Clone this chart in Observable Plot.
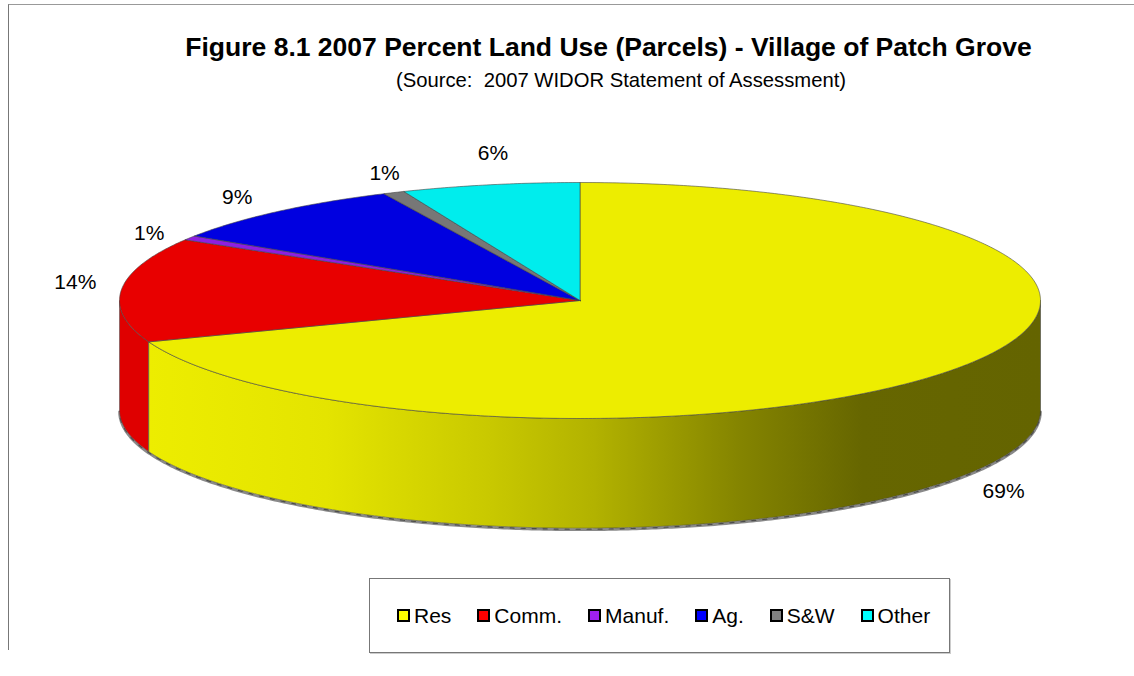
<!DOCTYPE html>
<html>
<head>
<meta charset="utf-8">
<script src="https://cdn.jsdelivr.net/npm/d3@7"></script>
<script src="https://cdn.jsdelivr.net/npm/@observablehq/plot@0.6"></script>
<style>
  html, body { margin: 0; padding: 0; background: #fff; }
  body { width: 1134px; height: 676px; position: relative; overflow: hidden; font-family: "Liberation Sans", Arial, sans-serif; color: #000; }
  #frame { position: absolute; left: 8px; top: 4px; right: 0; height: 645px; border-left: 1px solid #777; border-top: 1px solid #999; }
  #title { position: absolute; left: 0; width: 1217px; top: 32px; text-align: center; font-weight: bold; font-size: 26.5px; line-height: 30px; white-space: pre; }
  #subtitle { position: absolute; left: 0; width: 1242px; top: 68px; text-align: center; font-size: 20.25px; line-height: 24px; white-space: pre; }
  #chart { position: absolute; left: 0; top: 0; }
  #legend { position: absolute; left: 369px; top: 578px; width: 579px; height: 73px; border: 1px solid #777; box-shadow: 1px 1px 0 #ccc; background: #fff; box-sizing: content-box; display: flex; align-items: center; padding-left: 0; }
  #legend .inner { display: flex; gap: 26px; margin-left: 27px; }
  #legend .item { display: flex; align-items: center; gap: 4px; font-size: 21px; line-height: 24px; }
  #legend .sw { width: 9px; height: 9px; border: 2px solid #000; display: inline-block; }
</style>
</head>
<body>
<div id="frame"></div>
<div id="chart"></div>
<div id="title">Figure 8.1 2007 Percent Land Use (Parcels) - Village of Patch Grove</div>
<div id="subtitle">(Source:  2007 WIDOR Statement of Assessment)</div>
<div id="legend"><div class="inner"></div></div>
<script>
// ---- data ----
const categories = ["Res", "Comm.", "Manuf.", "Ag.", "S&W", "Other"];
const shares = [69.3, 14.3, 0.6, 8.8, 0.75, 6.25];
const labels = ["69%", "14%", "1%", "9%", "1%", "6%"];
const faceColors = ["#eded00", "#e80000", "#8e1fe0", "#0000e0", "#777777", "#00eded"];
const keyColors = ["#ffff00", "#ff0000", "#a020f0", "#0000ff", "#808080", "#00ffff"];

// ---- layout ----
const depth = 0.93; // rim thickness in ellipse units
const labelNudgeX = [0.098, -0.1, -0.088, -0.088, -0.02, 0.006];
const labelNudgeY = [-1.043, 0.063, 0.04, 0.12, 0.16, 0.265];
const wallStops = [[0, "#eded00"], [0.2, "#e4e400"], [0.38, "#c9c900"], [0.5, "#b2b200"], [0.66, "#858500"], [0.8, "#666600"], [1, "#646400"]];

// ---- geometry from the shares (clockwise from 12 o'clock) ----
const total = d3.sum(shares);
let run = 0;
const slices = categories.map((name, i) => {
  const a0 = run / total * 2 * Math.PI;
  run += shares[i];
  return {name, i, a0, a1: run / total * 2 * Math.PI, label: labels[i]};
});
const ux = a => Math.sin(a), uy = a => Math.cos(a);
function arc(a0, a1) {
  const n = Math.max(2, Math.ceil((a1 - a0) / (Math.PI / 360)));
  return d3.range(n + 1).map(k => a0 + (a1 - a0) * k / n);
}
const facePoints = slices.flatMap(s => {
  const pts = [{x: 0, y: 0}, ...arc(s.a0, s.a1).map(a => ({x: ux(a), y: uy(a)})), {x: 0, y: 0}];
  return pts.map(p => ({...p, name: s.name}));
});
function wall(a0, a1, name) {
  const as = arc(a0, a1);
  return [...as.map(a => ({x: ux(a), y: uy(a), name})),
          ...as.slice().reverse().map(a => ({x: ux(a), y: uy(a) - depth, name})),
          {x: ux(a0), y: uy(a0), name}];
}
const res = slices[0];
const yellowWall = wall(Math.PI / 2, res.a1, "Res");
const redWall = wall(res.a1, 3 * Math.PI / 2, "Comm.");
const lowerRim = arc(Math.PI / 2, 3 * Math.PI / 2).map(a => ({x: ux(a), y: uy(a) - depth}));
const labelData = slices.map(s => {
  const m = (s.a0 + s.a1) / 2;
  return {x: ux(m) + labelNudgeX[s.i], y: uy(m) + labelNudgeY[s.i], label: s.label};
});

const defs = () => {
  const d = d3.create("svg:defs");
  const g = d.append("linearGradient").attr("id", "wallShade").attr("x1", 0).attr("x2", 1).attr("y1", 0).attr("y2", 0);
  wallStops.forEach(([o, c]) => g.append("stop").attr("offset", o).attr("stop-color", c));
  return d.node();
};

const plot = Plot.plot({
  width: 1134, height: 676, margin: 0,
  style: {background: "transparent", fontFamily: "'Liberation Sans', Arial, sans-serif", color: "#000"},
  x: {domain: [-1, 1], range: [119, 1040], axis: null},
  y: {domain: [-1, 1], range: [418, 182], axis: null},
  color: {domain: categories, range: faceColors},
  marks: [
    defs,
    Plot.line(lowerRim, {x: "x", y: "y", stroke: "#8a8a8a", strokeWidth: 2.6, dy: 1.5}),
    Plot.line(lowerRim, {x: "x", y: "y", stroke: "#333", strokeWidth: 1.2, strokeDasharray: "4 7", strokeOpacity: 0.7, dy: 1}),
    Plot.line(redWall, {x: "x", y: "y", fill: "#df0000", stroke: "#555", strokeWidth: 0.6}),
    Plot.line(yellowWall, {x: "x", y: "y", fill: "url(#wallShade)", stroke: "#444", strokeWidth: 0.6}),
    Plot.line(facePoints, {x: "x", y: "y", z: "name", fill: "name", stroke: "#444", strokeWidth: 0.6}),
    Plot.text(labelData, {x: "x", y: "y", text: "label", fontSize: 21, fill: "#000"})
  ]
});
document.getElementById("chart").appendChild(plot);

const inner = document.querySelector("#legend .inner");
categories.forEach((c, i) => {
  const item = document.createElement("div");
  item.className = "item";
  const sw = document.createElement("span");
  sw.className = "sw";
  sw.style.background = keyColors[i];
  const t = document.createElement("span");
  t.textContent = c;
  item.append(sw, t);
  inner.appendChild(item);
});
</script>
</body>
</html>
